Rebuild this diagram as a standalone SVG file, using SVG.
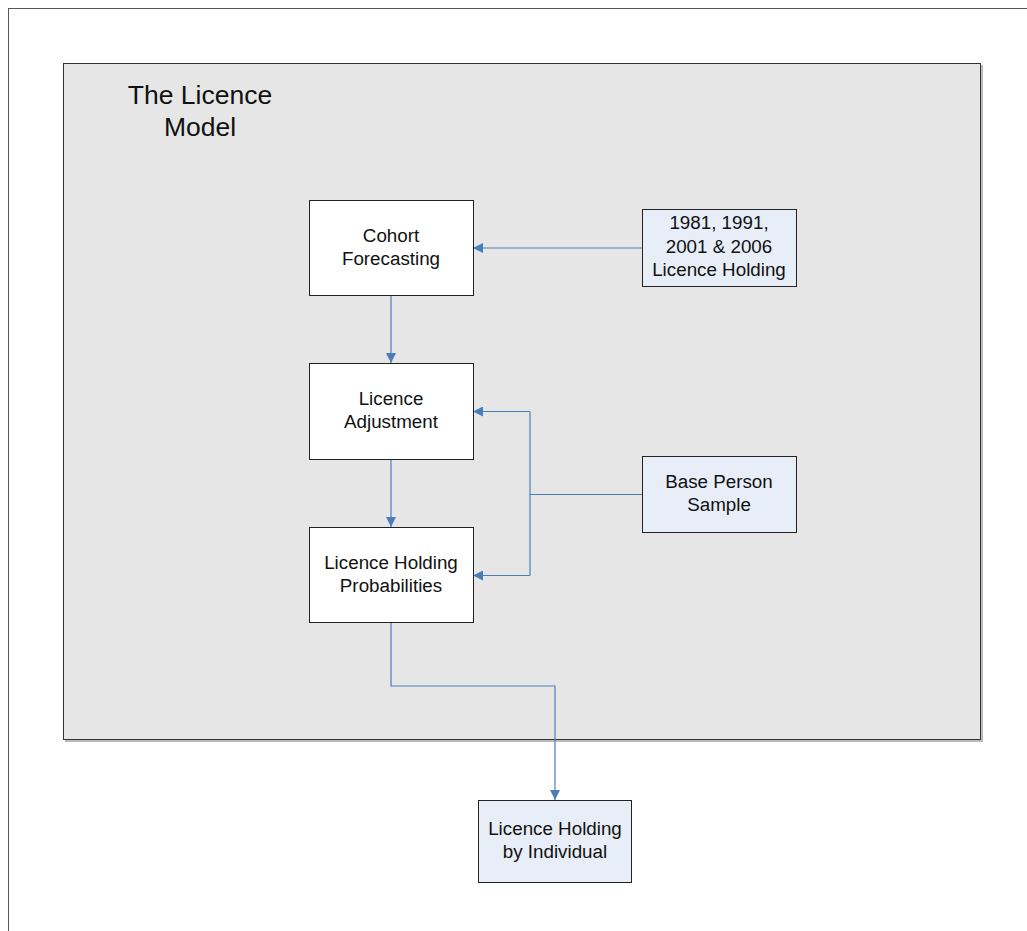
<svg xmlns="http://www.w3.org/2000/svg" width="1027" height="931" viewBox="0 0 1027 931">
<style>
.box{stroke:#222;stroke-width:1}
.w{fill:#ffffff}
.b{fill:#e8eef7}
.t{font-family:"Liberation Sans",Arial,sans-serif;font-size:18.8px;fill:#111;text-anchor:middle}
.c{fill:none;stroke:#4a7ebb;stroke-width:1.2}
</style>
<defs>
<marker id="ah" viewBox="0 0 10 10" refX="10" refY="5" markerWidth="10" markerHeight="10" markerUnits="userSpaceOnUse" orient="auto">
<path d="M0,0 L10,5 L0,10 z" fill="#4a7ebb"/>
</marker>
</defs>
<rect x="0" y="0" width="1027" height="931" fill="#ffffff"/>
<g id="frame">
<rect x="8.5" y="8.5" width="1040" height="940" fill="none" stroke="#555" stroke-width="1"/>
</g>
<g id="model">
<rect x="65" y="65" width="918" height="677" fill="#bbb"/>
<rect x="63.5" y="63.5" width="917" height="676" fill="#e6e6e6" stroke="#333" stroke-width="1"/>
<text class="t" style="font-size:26.5px" x="200" y="104">The Licence</text>
<text class="t" style="font-size:26.5px" x="200" y="136">Model</text>
</g>
<g id="connectors">
<path class="c" d="M642,248 H473" marker-end="url(#ah)"/>
<path class="c" d="M391,295 V363" marker-end="url(#ah)"/>
<path class="c" d="M391,459 V527" marker-end="url(#ah)"/>
<path class="c" d="M642,494.5 H530"/>
<path class="c" d="M530,411.5 V575.5"/>
<path class="c" d="M530,411.5 H473" marker-end="url(#ah)"/>
<path class="c" d="M530,575.5 H473" marker-end="url(#ah)"/>
<path class="c" d="M391,622 V686 H555 V800" marker-end="url(#ah)"/>
</g>
<g id="cohort">
<rect class="box w" x="309.5" y="200.5" width="164" height="95"/>
<text class="t" x="391" y="242">Cohort</text>
<text class="t" x="391" y="265">Forecasting</text>
</g>
<g id="history">
<rect class="box b" x="642.5" y="209.5" width="154" height="77"/>
<text class="t" x="719" y="229">1981, 1991,</text>
<text class="t" x="719" y="253">2001 &amp; 2006</text>
<text class="t" x="719" y="276">Licence Holding</text>
</g>
<g id="adjust">
<rect class="box w" x="309.5" y="363.5" width="164" height="96"/>
<text class="t" x="391" y="405">Licence</text>
<text class="t" x="391" y="428">Adjustment</text>
</g>
<g id="base">
<rect class="box b" x="642.5" y="456.5" width="154" height="76"/>
<text class="t" x="719" y="488">Base Person</text>
<text class="t" x="719" y="511">Sample</text>
</g>
<g id="probs">
<rect class="box w" x="309.5" y="527.5" width="164" height="95"/>
<text class="t" x="391" y="569">Licence Holding</text>
<text class="t" x="391" y="592">Probabilities</text>
</g>
<g id="individual">
<rect class="box b" x="478.5" y="800.5" width="153" height="82"/>
<text class="t" x="555" y="835">Licence Holding</text>
<text class="t" x="555" y="858">by Individual</text>
</g>
</svg>
